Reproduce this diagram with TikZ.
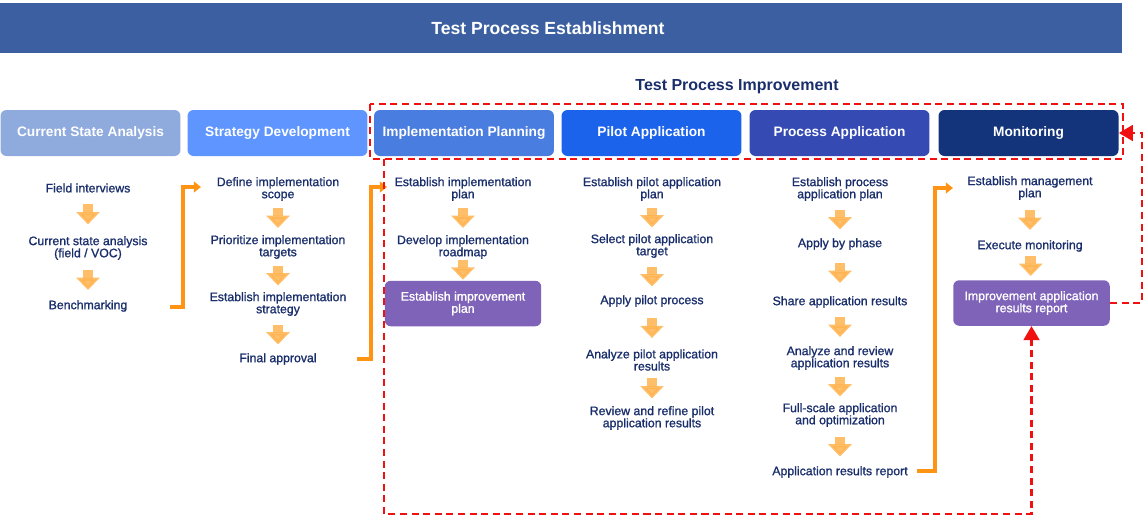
\documentclass[tikz,border=0pt]{standalone}
\usepackage{fontspec}
\setmainfont{Liberation Sans}
\newfontfamily\itemfamily{Liberation Sans}[FakeBold=1.2]
\usetikzlibrary{arrows.meta,calc,positioning}

\definecolor{barblue}{HTML}{3B5FA0}
\definecolor{csacol}{HTML}{8FAADC}
\definecolor{sdcol}{HTML}{5E95FE}
\definecolor{ipcol}{HTML}{4A7DE0}
\definecolor{pacol}{HTML}{1B63EB}
\definecolor{proccol}{HTML}{354BB3}
\definecolor{moncol}{HTML}{13347A}
\definecolor{navy}{HTML}{1A2E6C}
\definecolor{planpurple}{HTML}{7F63B8}
\definecolor{feedorange}{HTML}{FF9414}
\definecolor{blkorange}{HTML}{FFB34F}
\definecolor{dashred}{HTML}{F01010}

\tikzset{
	hdr/.style={rounded corners=3.4pt, minimum width=3.6cm, minimum height=0.92cm,
		inner sep=0pt, text=white, font=\fontsize{7.8}{8}\selectfont\bfseries},
	item/.style={align=center, inner sep=0pt, text=navy,
		font=\itemfamily\fontsize{7}{6.9}\selectfont},
	planbox/.style={item, fill=planpurple, text=white, rounded corners=3.4pt,
		minimum width=3.13cm, minimum height=0.91cm},
	blk/.style={draw=blkorange, line width=6pt, opacity=0.85,
		-{Triangle[width=13pt,length=7pt]}},
	feed/.style={draw=feedorange, line width=2.3pt, line join=miter,
		-{Triangle[width=6pt,length=4pt]}},
	reddash/.style={draw=dashred, line width=1.4pt, dash pattern=on 4pt off 2.6pt}
}

\begin{document}
\begin{tikzpicture}[x=0.02cm, y=-0.02cm]
	\useasboundingbox (0,0) rectangle (1145,518);

	% title bar
	\fill[barblue] (0,3) rectangle (1122,53);
	\node[text=white, font=\fontsize{10}{11}\selectfont\bfseries] (title) at (548,28) {Test Process Establishment};
	\node[text=navy, font=\fontsize{9.1}{10}\selectfont\bfseries] (tpi) at (737,87) {Test Process Improvement};

	% phase headers
	\node[hdr, fill=csacol] (csa) at (90.5,133) {Current State Analysis};
	\node[hdr, fill=sdcol] (sd) at (277.5,133) {Strategy Development};
	\node[hdr, fill=ipcol] (ip) at (464,133) {Implementation Planning};
	\node[hdr, fill=pacol] (pa) at (651.5,133) {Pilot Application};
	\node[hdr, fill=proccol] (proc) at (839.5,133) {Process Application};
	\node[hdr, fill=moncol] (mon) at (1028.5,133) {Monitoring};
	\draw[reddash] (370,104) rectangle (1123,159);

	% current state analysis
	\node[item] (fi) at (88,188) {Field interviews};
	\node[item] (csv) at (88,248) {Current state analysis\\(field / VOC)};
	\node[item] (bm) at (88,306) {Benchmarking};

	% strategy development
	\node[item] (dis) at (278,189) {Define implementation\\scope};
	\node[item] (pit) at (278,247) {Prioritize implementation\\targets};
	\node[item] (eis) at (278,304) {Establish implementation\\strategy};
	\node[item] (fa) at (278,359) {Final approval};

	% implementation planning
	\node[item] (eip) at (463,189) {Establish implementation\\plan};
	\node[item] (dir) at (463,247) {Develop implementation\\roadmap};
	\node[planbox] (eimp) at (463,303.5) {Establish improvement\\plan};

	% pilot application
	\node[item] (epa) at (652,189) {Establish pilot application\\plan};
	\node[item] (spa) at (652,246) {Select pilot application\\target};
	\node[item] (app) at (652,301) {Apply pilot process};
	\node[item] (apa) at (652,360) {Analyze pilot application\\results};
	\node[item] (rrp) at (652,418) {Review and refine pilot\\application results};

	% process application
	\node[item] (epp) at (840,189) {Establish process\\application plan};
	\node[item] (abp) at (840,244) {Apply by phase};
	\node[item] (sar) at (840,302) {Share application results};
	\node[item] (arr) at (840,358) {Analyze and review\\application results};
	\node[item] (fso) at (840,415) {Full-scale application\\and optimization};
	\node[item] (ars) at (840,472) {Application results report};

	% monitoring
	\node[item] (emp) at (1030,188) {Establish management\\plan};
	\node[item] (exm) at (1030,246) {Execute monitoring};
	\node[planbox] (iar) at (1031.5,303) {Improvement application\\results report};

	% step arrows
	\foreach \a/\b in {fi/csv, csv/bm, dis/pit, pit/eis, eis/fa, eip/dir, dir/eimp,
		epa/spa, spa/app, app/apa, apa/rrp, epp/abp, abp/sar, sar/arr, arr/fso, fso/ars,
		emp/exm, exm/iar}
		\draw[blk] ($(\a.south)!0.5!(\b.north)+(0,-10)$) -- ++(0,20);

	% hand-over between phases
	\coordinate (h1s) at (170,307);
	\coordinate (h1e) at (201,187);
	\coordinate (h2s) at (357,359);
	\coordinate (h2e) at (387,187);
	\coordinate (h3s) at (917,471);
	\coordinate (h3e) at (953,188);
	\draw[feed] (h1s) -- ++(13,0) |- (h1e);
	\draw[feed] (h2s) -- ++(14,0) |- (h2e);
	\draw[feed] (h3s) -- ++(18,0) |- (h3e);

	% feedback loops
	\coordinate (loopl) at (384,159);
	\draw[reddash, -{Triangle[width=9pt,length=8pt]}] (loopl) |- ($(iar.south)+(0,188)$) -- (iar.south);
	\draw[reddash, -{Triangle[width=9pt,length=8pt]}] (iar.east) -- ++(32,0) |- (mon.east);
\end{tikzpicture}
\end{document}
